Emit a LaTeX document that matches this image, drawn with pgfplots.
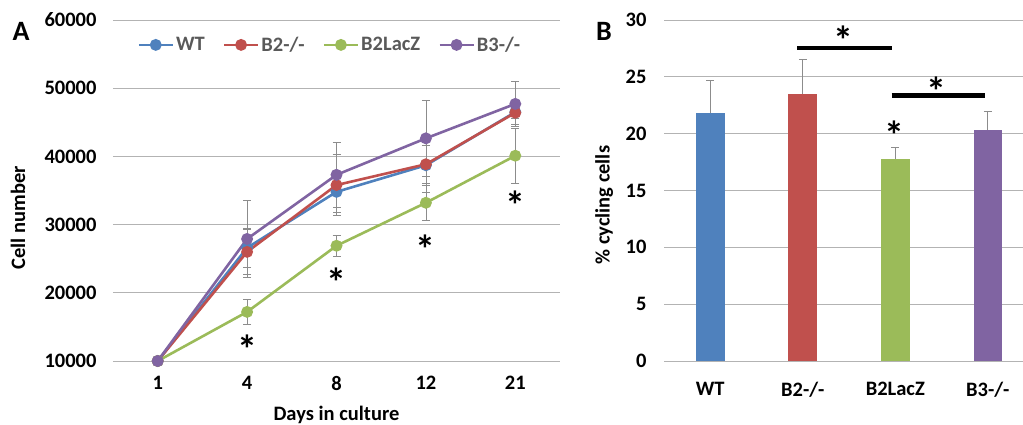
\documentclass[border=0pt]{standalone}
\usepackage{pgfplots}
\pgfplotsset{compat=1.18}
\usepackage{fontspec}
\setmainfont{Carlito}
\definecolor{wtc}{HTML}{4F81BD}
\definecolor{b2c}{HTML}{C0504D}
\definecolor{lzc}{HTML}{9BBB59}
\definecolor{b3c}{HTML}{8064A2}
\definecolor{gridc}{HTML}{B3B3B3}
\definecolor{errc}{HTML}{8C8C8C}
\definecolor{legc}{HTML}{595959}
\newcommand{\tf}{\fontsize{20.5}{23}\selectfont\bfseries}
\tikzset{star/.style={font=\fontsize{40}{42}\selectfont\bfseries, inner sep=0pt, anchor=north}}
\begin{document}
\begin{tikzpicture}
\pgfplotsset{
  common/.style={
    scale only axis, anchor=south west,
    axis line style={draw=none}, tick style={draw=none},
    ymajorgrids, major grid style={gridc, line width=1pt},
    ticklabel style={font=\tf, text=black},
    label style={font=\tf, text=black},
    /pgf/number format/assume math mode=true,
    /pgf/number format/fixed,
    /pgf/number format/set thousands separator={},
    scaled y ticks=false,
  },
}
% Panel A
\begin{axis}[common,
  at={(113pt,63pt)}, width=447pt, height=341pt,
  xmin=-0.5, xmax=4.5, ymin=10000, ymax=60000,
  xtick={0,1,2,3,4}, xticklabels={1,4,8,12,21},
  ytick={10000,20000,30000,40000,50000,60000},
  yticklabel style={xshift=-13pt},
  xticklabel style={yshift=-12pt},
  ylabel={Cell number},
  ylabel style={at={(axis description cs:-0.2125,0.42)}, anchor=center},
  xlabel={Days in culture},
  xlabel style={at={(axis description cs:0.5,-0.158)}, anchor=center},
  legend columns=4,
  legend style={at={(0.485,0.927)}, anchor=center, draw=none, fill=none,
    font=\tf, text=legc, /tikz/every even column/.append style={column sep=16pt}},
  legend image code/.code={\draw[#1, mark repeat=2, mark phase=2] plot coordinates {(0pt,0pt) (17pt,0pt) (34pt,0pt)};},
  every axis plot/.append style={line width=2.6pt, mark=*, mark size=4.6pt,
    error bars/y dir=both, error bars/y explicit,
    error bars/error bar style={errc, line width=0.8pt},
    error bars/error mark options={errc, line width=0.8pt, mark size=4pt, rotate=90}},
]
\addplot[wtc, mark options={fill=wtc, draw=wtc}] coordinates {
 (0,10000) +- (0,0) (1,26600) +- (0,2900) (2,34800) +- (0,3000) (3,38700) +- (0,4000) (4,46500) +- (0,1000)};
\addlegendentry{WT}
\addplot[b2c, mark options={fill=b2c, draw=b2c}] coordinates {
 (0,10000) +- (0,0) (1,26000) +- (0,3300) (2,35800) +- (0,4500) (3,38850) +- (0,2800) (4,46400) +- (0,1700)};
\addlegendentry{B2-/-}
\addplot[lzc, mark options={fill=lzc, draw=lzc}] coordinates {
 (0,10000) +- (0,0) (1,17200) +- (0,1850) (2,26900) +- (0,1500) (3,33200) +- (0,2550) (4,40100) +- (0,4000)};
\addlegendentry{B2LacZ}
\addplot[b3c, mark options={fill=b3c, draw=b3c}] coordinates {
 (0,10000) +- (0,0) (1,27900) +- (0,5700) (2,37300) +- (0,4800) (3,42650) +- (0,5600) (4,47700) +- (0,3300)};
\addlegendentry{B3-/-}
\node[star] at (axis cs:1,13810) {*};
\node[star] at (axis cs:2,23710) {*};
\node[star] at (axis cs:3,28450) {*};
\node[star] at (axis cs:4,34960) {*};
\end{axis}
% Panel B
\begin{axis}[common,
  at={(664pt,63pt)}, width=359pt, height=341pt,
  xmin=-0.5, xmax=3.38, ymin=0, ymax=30,
  xtick={0,1,2,3}, xticklabels={WT,B2-/-,B2LacZ,B3-/-},
  ytick={0,5,10,15,20,25,30},
  yticklabel style={xshift=-14pt},
  xticklabel style={yshift=-13pt},
  ylabel={\% cycling cells},
  ylabel style={at={(axis description cs:-0.167,0.457)}, anchor=center},
  ybar, bar width=28.6pt,
  every axis plot/.append style={draw=none, bar shift=0pt,
    error bars/y dir=plus, error bars/y explicit,
    error bars/error bar style={errc, line width=0.8pt},
    error bars/error mark options={errc, line width=0.8pt, mark size=4pt, rotate=90}},
]
\addplot[fill=wtc] coordinates {(0,21.84) +- (0,2.85)};
\addplot[fill=b2c] coordinates {(1,23.52) +- (0,3.0)};
\addplot[fill=lzc] coordinates {(2,17.78) +- (0,1.03)};
\addplot[fill=b3c] coordinates {(3,20.34) +- (0,1.6)};
\draw[line width=4.5pt] (axis cs:0.94,27.54) -- (axis cs:1.96,27.54);
\draw[line width=4.5pt] (axis cs:1.96,23.34) -- (axis cs:2.97,23.34);
\node[star] at (axis cs:1.438,29.48) {*};
\node[star] at (axis cs:2.443,25.0) {*};
\node[star] at (axis cs:1.99,21.18) {*};
\end{axis}
\node[font=\fontsize{28}{30}\selectfont\bfseries, anchor=center] at (21pt,393pt) {A};
\node[font=\fontsize{28}{30}\selectfont\bfseries, anchor=center] at (604pt,393pt) {B};
\pgfresetboundingbox
\useasboundingbox (0,0) rectangle (1023pt,424pt);
\end{tikzpicture}
\end{document}
